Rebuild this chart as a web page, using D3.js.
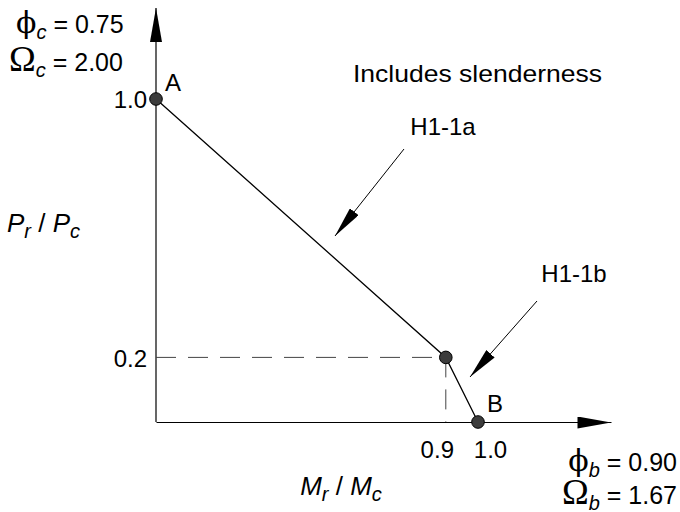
<!DOCTYPE html>
<html>
<head>
<meta charset="utf-8">
<script src="https://cdn.jsdelivr.net/npm/d3@7"></script>
<style>
  html, body { margin: 0; padding: 0; background: #fff; }
  svg { display: block; }
  text { font-family: "Liberation Sans", Arial, sans-serif; fill: #000; }
  .phi { font-family: "DejaVu Serif", serif; }
  .omega { font-family: "Liberation Serif", "Times New Roman", serif; }
</style>
</head>
<body>
<svg id="chart" width="680" height="512"></svg>
<script>
// ---- data ----
const mrValues = [0, 0.9, 1.0];          // M_r / M_c
const prValues = [1.0, 0.2, 0.0];        // P_r / P_c
const pointLabels = ["A", "", "B"];
const xTickValues = [0.9, 1.0];
const xTickLabels = ["0.9", "1.0"];
const yTickValues = [0.2, 1.0];
const yTickLabels = ["0.2", "1.0"];
const guideX = [0.9];
const guideY = [0.2];
const annotations = ["H1-1a", "H1-1b"];
const noteText = "Includes slenderness";
const factorSymbols = ["\u03D5", "\u03A9", "\u03D5", "\u03A9"];
const factorSubs = ["c", "c", "b", "b"];
const factorValues = ["0.75", "2.00", "0.90", "1.67"];

const svg = d3.select("#chart");
const FS = 24;

// ---- scales ----
const x = d3.scaleLinear().domain([0, 1]).range([156, 478]);
const y = d3.scaleLinear().domain([0, 1]).range([422, 99]);
const xAxisMax = 1.413, yAxisMax = 1.282;

// ---- markers ----
const defs = svg.append("defs");
defs.append("marker").attr("id", "axisArrow")
  .attr("markerUnits", "userSpaceOnUse")
  .attr("viewBox", "0 -6 34 12").attr("markerWidth", 34).attr("markerHeight", 12)
  .attr("refX", 34).attr("refY", 0).attr("orient", "auto")
  .append("path").attr("d", "M0,-6 L34,0 L0,6 Z").attr("fill", "#000");
defs.append("marker").attr("id", "noteArrow")
  .attr("markerUnits", "userSpaceOnUse")
  .attr("viewBox", "0 -5.5 31 11").attr("markerWidth", 31).attr("markerHeight", 11)
  .attr("refX", 31).attr("refY", 0).attr("orient", "auto")
  .append("path").attr("d", "M0,-5.5 L31,0 L0,5.5 Z").attr("fill", "#000");

// ---- axes ----
const xAxisScale = x.copy().domain([0, xAxisMax]).range([x(0), x(xAxisMax)]);
const yAxisScale = y.copy().domain([0, yAxisMax]).range([y(0), y(yAxisMax)]);

const gx = svg.append("g").attr("transform", `translate(0,${y(0)})`)
  .call(d3.axisBottom(xAxisScale).tickValues(xTickValues).tickSize(0).tickPadding(0)
        .tickFormat((d, i) => xTickLabels[i]));
gx.select(".domain").attr("stroke", "#000").attr("stroke-width", 1.2)
  .attr("marker-end", "url(#axisArrow)");
gx.selectAll(".tick text").attr("font-size", FS).attr("font-family", null)
  .attr("dy", 0).attr("y", 36)
  .attr("dx", (d, i) => i === 0 ? -9 : 12);

const gy = svg.append("g").attr("transform", `translate(${x(0)},0)`)
  .call(d3.axisLeft(yAxisScale).tickValues(yTickValues).tickSize(0).tickPadding(0)
        .tickFormat((d, i) => yTickLabels[i]));
gy.select(".domain").attr("stroke", "#000").attr("stroke-width", 1.2)
  .attr("d", `M0,${y(0)}V${y(yAxisMax)}`)
  .attr("marker-end", "url(#axisArrow)");
gy.selectAll(".tick text").attr("font-size", FS).attr("font-family", null)
  .attr("x", -9).attr("dy", "0.36em");

// ---- guide dashed lines ----
svg.append("g").selectAll("line").data(guideY).join("line")
  .attr("x1", x(0)).attr("x2", x(guideX[0]))
  .attr("y1", d => y(d)).attr("y2", d => y(d))
  .attr("stroke", "#444").attr("stroke-width", 1).attr("stroke-dasharray", "20,12");
svg.append("g").selectAll("line").data(guideX).join("line")
  .attr("x1", d => x(d)).attr("x2", d => x(d))
  .attr("y1", y(guideY[0])).attr("y2", y(0))
  .attr("stroke", "#444").attr("stroke-width", 1).attr("stroke-dasharray", "20,12");

// ---- interaction curve ----
const pts = mrValues.map((m, i) => ({ m, p: prValues[i], label: pointLabels[i] }));
svg.append("path").datum(pts)
  .attr("d", d3.line().x(d => x(d.m)).y(d => y(d.p)))
  .attr("fill", "none").attr("stroke", "#000").attr("stroke-width", 1.3);

svg.append("g").selectAll("circle").data(pts).join("circle")
  .attr("cx", d => x(d.m)).attr("cy", d => y(d.p)).attr("r", 6.3)
  .attr("fill", "#3c3c3c").attr("stroke", "#000").attr("stroke-width", 1);

svg.append("g").selectAll("text").data(pts.filter(d => d.label)).join("text")
  .attr("x", d => x(d.m) + 9)
  .attr("y", d => y(d.p) - (d.label === "A" ? 8 : 10))
  .attr("font-size", FS).text(d => d.label);

// ---- annotations ----
svg.append("text").attr("x", 353).attr("y", 82).attr("font-size", FS)
  .attr("textLength", 249).attr("lengthAdjust", "spacingAndGlyphs").text(noteText);

svg.append("text").attr("x", 443).attr("y", 135).attr("text-anchor", "middle")
  .attr("font-size", FS).text(annotations[0]);
svg.append("line").attr("x1", 404).attr("y1", 149).attr("x2", 335).attr("y2", 236)
  .attr("stroke", "#000").attr("stroke-width", 1).attr("marker-end", "url(#noteArrow)");

svg.append("text").attr("x", 574).attr("y", 282).attr("text-anchor", "middle")
  .attr("font-size", FS).text(annotations[1]);
svg.append("line").attr("x1", 537).attr("y1", 301).attr("x2", 470).attr("y2", 377)
  .attr("stroke", "#000").attr("stroke-width", 1).attr("marker-end", "url(#noteArrow)");

// ---- axis titles ----
function ratioLabel(sel, a, sa, b, sb) {
  sel.append("tspan").attr("font-style", "italic").text(a);
  sel.append("tspan").attr("font-style", "italic").attr("font-size", 20).attr("dy", 6).text(sa);
  sel.append("tspan").attr("dy", -6).text(" / ");
  sel.append("tspan").attr("font-style", "italic").text(b);
  sel.append("tspan").attr("font-style", "italic").attr("font-size", 20).attr("dy", 6).text(sb);
}
ratioLabel(svg.append("text").attr("x", 7).attr("y", 232).attr("font-size", 26), "P", "r", "P", "c");
ratioLabel(svg.append("text").attr("x", 341).attr("y", 495).attr("font-size", 26)
  .attr("text-anchor", "middle"), "M", "r", "M", "c");

// ---- resistance factors ----
function factor(i, xPos, yPos, anchor) {
  const t = svg.append("text").attr("x", xPos).attr("y", yPos).attr("font-size", 25)
    .attr("text-anchor", anchor);
  const isPhi = factorSymbols[i] === "\u03D5";
  t.append("tspan").attr("class", isPhi ? "phi" : "omega")
    .attr("font-size", isPhi ? 30 : 36).text(factorSymbols[i]);
  t.append("tspan").attr("font-style", "italic").attr("font-size", 20).attr("dy", 6).text(factorSubs[i]);
  t.append("tspan").attr("dy", -6).text(" = " + factorValues[i]);
}
factor(0, 16, 33, "start");
factor(1, 9, 71, "start");
factor(2, 677, 471, "end");
factor(3, 677, 504, "end");
</script>
</body>
</html>
